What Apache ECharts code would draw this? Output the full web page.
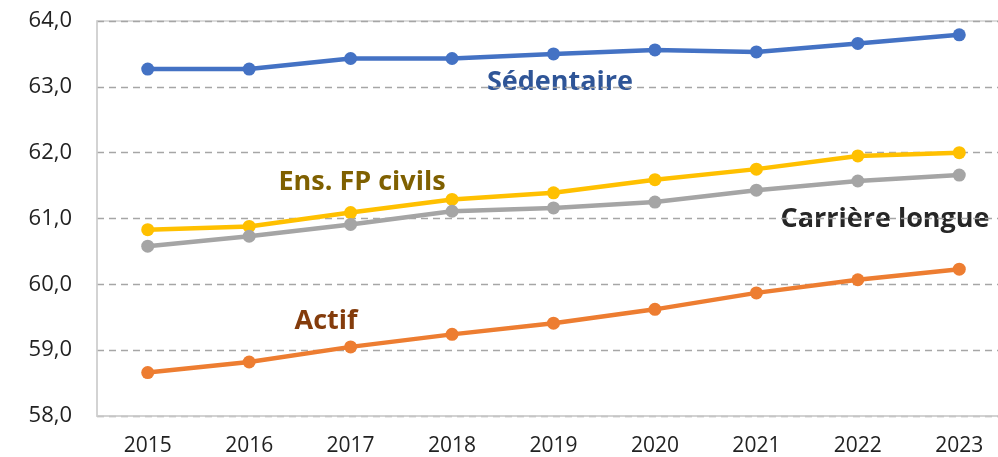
<!DOCTYPE html>
<html>
<head>
  <meta charset="utf-8">
  <title>Age de depart</title>
  <style>
    html, body { margin: 0; padding: 0; background: #fff; overflow: hidden; }
    /* le graphique d'origine est rogné à droite : on déborde volontairement */
    #main { width: 1010px; height: 457px; }
  </style>
</head>
<body>
<div id="main"></div>
<script src="https://cdn.jsdelivr.net/npm/echarts@6/dist/echarts.min.js"></script>
<script>
var years = ["2015", "2016", "2017", "2018", "2019", "2020", "2021", "2022", "2023"];
var sedentaire = [63.27, 63.27, 63.43, 63.43, 63.50, 63.56, 63.53, 63.66, 63.79];
var ensFP = [60.83, 60.88, 61.09, 61.29, 61.39, 61.59, 61.75, 61.95, 62.00];
var carriere = [60.58, 60.73, 60.91, 61.11, 61.16, 61.25, 61.43, 61.57, 61.66];
var actif = [58.66, 58.82, 59.05, 59.24, 59.41, 59.62, 59.87, 60.07, 60.23];

var myEcharts = echarts.init(document.getElementById("main"));

function serie(name, data, color) {
  return {
    name: name,
    type: "line",
    data: data,
    symbol: "circle",
    symbolSize: 13,
    itemStyle: { color: color },
    lineStyle: { color: color, width: 4.5 },
    animation: false
  };
}

// étiquettes posées directement dans le graphique (fond blanc qui coupe le quadrillage)
function etiquette(txt, x, y, color) {
  return {
    type: "text",
    x: x, y: y,
    style: {
      text: txt,
      align: "center",
      verticalAlign: "middle",
      fill: color,
      font: "bold 27px 'Open Sans'",
      backgroundColor: "#fff",
      padding: [0, 14]
    }
  };
}

myEcharts.setOption({
  animation: false,
  grid: {
    left: 97, top: 21, right: 0, bottom: 41,
    show: true,
    borderColor: "#d0d0d0",
    borderWidth: 1.5
  },
  xAxis: {
    type: "category",
    data: years,
    axisLine: { lineStyle: { color: "#d0d0d0", width: 1.5 } },
    axisTick: { show: false },
    axisLabel: {
      color: "#222",
      fontSize: 21,
      fontFamily: "Open Sans",
      margin: 20
    }
  },
  yAxis: {
    type: "value",
    min: 58,
    max: 64,
    interval: 1,
    axisLine: { show: true, lineStyle: { color: "#d0d0d0", width: 1.5 } },
    axisTick: { show: false },
    splitLine: { lineStyle: { color: "#a6a6a6", type: [7, 5], width: 1.3 } },
    axisLabel: {
      color: "#222",
      fontSize: 22,
      fontFamily: "Open Sans",
      margin: 25,
      formatter: function (v) { return v.toFixed(1).replace(".", ","); }
    }
  },
  series: [
    serie("Sédentaire", sedentaire, "#4472c4"),
    serie("Ens. FP civils", ensFP, "#ffc000"),
    serie("Carrière longue", carriere, "#a5a5a5"),
    serie("Actif", actif, "#ed7d31")
  ],
  graphic: [
    etiquette("Sédentaire", 560, 82, "#2f5597"),
    etiquette("Ens. FP civils", 362, 182, "#7f6000"),
    etiquette("Carrière longue", 885, 219, "#262626"),
    etiquette("Actif", 326, 321, "#843c0c")
  ]
});
</script>
</body>
</html>
